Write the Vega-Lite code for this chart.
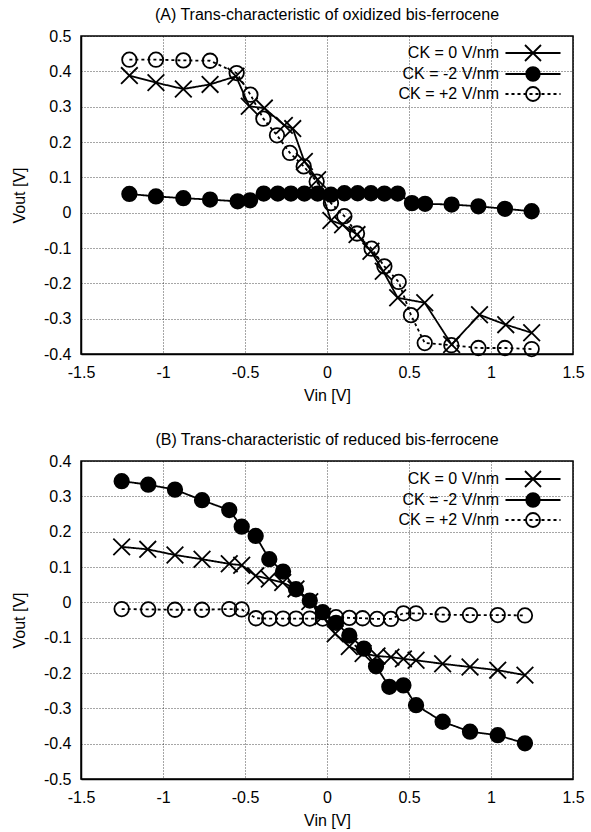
{
  "$schema": "https://vega.github.io/schema/vega-lite/v6.json",
  "background": "white",
  "padding": {"left": 10, "top": 5, "right": 5, "bottom": 0},
  "spacing": 26,
  "config": {
    "font": "Liberation Sans",
    "view": {"stroke": "black", "strokeWidth": 1.5},
    "axis": {
      "labelFont": "Liberation Sans", "labelFontSize": 16, "labelColor": "black",
      "titleFont": "Liberation Sans", "titleFontSize": 16, "titleFontWeight": "normal", "titleColor": "black",
      "grid": true, "gridColor": "#000000", "gridDash": [1, 2], "gridWidth": 1, "gridOpacity": 0.7,
      "domain": true, "domainColor": "black", "domainWidth": 1.5, "ticks": true, "tickSize": 0, "tickColor": "black",
      "labelPadding": 10, "labelFlush": false, "labelOverlap": false
    },
    "axisX": {"titlePadding": 7},
    "axisY": {"titlePadding": 16},
    "title": {"fontSize": 16, "fontWeight": "normal", "font": "Liberation Sans", "color": "black", "offset": 5.5, "anchor": "middle"},
    "legend": {"labelFontSize": 16, "labelFont": "Liberation Sans", "labelColor": "black"}
  },
  "datasets": {
    "A": [
      {"vin": -1.205, "vout": 0.388, "ck": "CK = 0 V/nm"},
      {"vin": -1.043, "vout": 0.368, "ck": "CK = 0 V/nm"},
      {"vin": -0.876, "vout": 0.350, "ck": "CK = 0 V/nm"},
      {"vin": -0.713, "vout": 0.363, "ck": "CK = 0 V/nm"},
      {"vin": -0.555, "vout": 0.386, "ck": "CK = 0 V/nm"},
      {"vin": -0.474, "vout": 0.301, "ck": "CK = 0 V/nm"},
      {"vin": -0.382, "vout": 0.296, "ck": "CK = 0 V/nm"},
      {"vin": -0.260, "vout": 0.247, "ck": "CK = 0 V/nm"},
      {"vin": -0.209, "vout": 0.238, "ck": "CK = 0 V/nm"},
      {"vin": -0.138, "vout": 0.145, "ck": "CK = 0 V/nm"},
      {"vin": -0.057, "vout": 0.093, "ck": "CK = 0 V/nm"},
      {"vin": 0.024, "vout": -0.022, "ck": "CK = 0 V/nm"},
      {"vin": 0.095, "vout": -0.034, "ck": "CK = 0 V/nm"},
      {"vin": 0.183, "vout": -0.062, "ck": "CK = 0 V/nm"},
      {"vin": 0.268, "vout": -0.109, "ck": "CK = 0 V/nm"},
      {"vin": 0.343, "vout": -0.166, "ck": "CK = 0 V/nm"},
      {"vin": 0.431, "vout": -0.241, "ck": "CK = 0 V/nm"},
      {"vin": 0.596, "vout": -0.255, "ck": "CK = 0 V/nm"},
      {"vin": 0.760, "vout": -0.373, "ck": "CK = 0 V/nm"},
      {"vin": 0.930, "vout": -0.289, "ck": "CK = 0 V/nm"},
      {"vin": 1.090, "vout": -0.317, "ck": "CK = 0 V/nm"},
      {"vin": 1.248, "vout": -0.340, "ck": "CK = 0 V/nm"},
      {"vin": -1.205, "vout": 0.053, "ck": "CK = -2 V/nm"},
      {"vin": -1.043, "vout": 0.046, "ck": "CK = -2 V/nm"},
      {"vin": -0.876, "vout": 0.041, "ck": "CK = -2 V/nm"},
      {"vin": -0.713, "vout": 0.037, "ck": "CK = -2 V/nm"},
      {"vin": -0.545, "vout": 0.032, "ck": "CK = -2 V/nm"},
      {"vin": -0.469, "vout": 0.035, "ck": "CK = -2 V/nm"},
      {"vin": -0.386, "vout": 0.054, "ck": "CK = -2 V/nm"},
      {"vin": -0.300, "vout": 0.054, "ck": "CK = -2 V/nm"},
      {"vin": -0.220, "vout": 0.054, "ck": "CK = -2 V/nm"},
      {"vin": -0.138, "vout": 0.054, "ck": "CK = -2 V/nm"},
      {"vin": -0.057, "vout": 0.054, "ck": "CK = -2 V/nm"},
      {"vin": 0.024, "vout": 0.051, "ck": "CK = -2 V/nm"},
      {"vin": 0.106, "vout": 0.055, "ck": "CK = -2 V/nm"},
      {"vin": 0.187, "vout": 0.055, "ck": "CK = -2 V/nm"},
      {"vin": 0.268, "vout": 0.055, "ck": "CK = -2 V/nm"},
      {"vin": 0.350, "vout": 0.054, "ck": "CK = -2 V/nm"},
      {"vin": 0.431, "vout": 0.054, "ck": "CK = -2 V/nm"},
      {"vin": 0.518, "vout": 0.027, "ck": "CK = -2 V/nm"},
      {"vin": 0.598, "vout": 0.025, "ck": "CK = -2 V/nm"},
      {"vin": 0.760, "vout": 0.023, "ck": "CK = -2 V/nm"},
      {"vin": 0.923, "vout": 0.018, "ck": "CK = -2 V/nm"},
      {"vin": 1.085, "vout": 0.011, "ck": "CK = -2 V/nm"},
      {"vin": 1.248, "vout": 0.004, "ck": "CK = -2 V/nm"},
      {"vin": -1.205, "vout": 0.433, "ck": "CK = +2 V/nm"},
      {"vin": -1.043, "vout": 0.433, "ck": "CK = +2 V/nm"},
      {"vin": -0.876, "vout": 0.431, "ck": "CK = +2 V/nm"},
      {"vin": -0.713, "vout": 0.430, "ck": "CK = +2 V/nm"},
      {"vin": -0.551, "vout": 0.395, "ck": "CK = +2 V/nm"},
      {"vin": -0.467, "vout": 0.334, "ck": "CK = +2 V/nm"},
      {"vin": -0.388, "vout": 0.266, "ck": "CK = +2 V/nm"},
      {"vin": -0.305, "vout": 0.219, "ck": "CK = +2 V/nm"},
      {"vin": -0.226, "vout": 0.169, "ck": "CK = +2 V/nm"},
      {"vin": -0.142, "vout": 0.131, "ck": "CK = +2 V/nm"},
      {"vin": -0.063, "vout": 0.088, "ck": "CK = +2 V/nm"},
      {"vin": 0.024, "vout": 0.027, "ck": "CK = +2 V/nm"},
      {"vin": 0.106, "vout": -0.010, "ck": "CK = +2 V/nm"},
      {"vin": 0.183, "vout": -0.059, "ck": "CK = +2 V/nm"},
      {"vin": 0.272, "vout": -0.102, "ck": "CK = +2 V/nm"},
      {"vin": 0.350, "vout": -0.152, "ck": "CK = +2 V/nm"},
      {"vin": 0.437, "vout": -0.196, "ck": "CK = +2 V/nm"},
      {"vin": 0.512, "vout": -0.290, "ck": "CK = +2 V/nm"},
      {"vin": 0.596, "vout": -0.369, "ck": "CK = +2 V/nm"},
      {"vin": 0.758, "vout": -0.375, "ck": "CK = +2 V/nm"},
      {"vin": 0.923, "vout": -0.383, "ck": "CK = +2 V/nm"},
      {"vin": 1.085, "vout": -0.383, "ck": "CK = +2 V/nm"},
      {"vin": 1.248, "vout": -0.386, "ck": "CK = +2 V/nm"}
    ],
    "B": [
      {"vin": -1.252, "vout": 0.157, "ck": "CK = 0 V/nm"},
      {"vin": -1.093, "vout": 0.150, "ck": "CK = 0 V/nm"},
      {"vin": -0.927, "vout": 0.134, "ck": "CK = 0 V/nm"},
      {"vin": -0.762, "vout": 0.122, "ck": "CK = 0 V/nm"},
      {"vin": -0.596, "vout": 0.109, "ck": "CK = 0 V/nm"},
      {"vin": -0.520, "vout": 0.105, "ck": "CK = 0 V/nm"},
      {"vin": -0.435, "vout": 0.075, "ck": "CK = 0 V/nm"},
      {"vin": -0.352, "vout": 0.066, "ck": "CK = 0 V/nm"},
      {"vin": -0.270, "vout": 0.056, "ck": "CK = 0 V/nm"},
      {"vin": -0.189, "vout": 0.038, "ck": "CK = 0 V/nm"},
      {"vin": -0.105, "vout": 0.002, "ck": "CK = 0 V/nm"},
      {"vin": -0.026, "vout": -0.040, "ck": "CK = 0 V/nm"},
      {"vin": 0.050, "vout": -0.089, "ck": "CK = 0 V/nm"},
      {"vin": 0.136, "vout": -0.125, "ck": "CK = 0 V/nm"},
      {"vin": 0.220, "vout": -0.145, "ck": "CK = 0 V/nm"},
      {"vin": 0.305, "vout": -0.152, "ck": "CK = 0 V/nm"},
      {"vin": 0.390, "vout": -0.155, "ck": "CK = 0 V/nm"},
      {"vin": 0.466, "vout": -0.160, "ck": "CK = 0 V/nm"},
      {"vin": 0.543, "vout": -0.164, "ck": "CK = 0 V/nm"},
      {"vin": 0.705, "vout": -0.174, "ck": "CK = 0 V/nm"},
      {"vin": 0.872, "vout": -0.183, "ck": "CK = 0 V/nm"},
      {"vin": 1.041, "vout": -0.192, "ck": "CK = 0 V/nm"},
      {"vin": 1.207, "vout": -0.206, "ck": "CK = 0 V/nm"},
      {"vin": -1.252, "vout": 0.343, "ck": "CK = -2 V/nm"},
      {"vin": -1.090, "vout": 0.333, "ck": "CK = -2 V/nm"},
      {"vin": -0.927, "vout": 0.319, "ck": "CK = -2 V/nm"},
      {"vin": -0.762, "vout": 0.289, "ck": "CK = -2 V/nm"},
      {"vin": -0.596, "vout": 0.261, "ck": "CK = -2 V/nm"},
      {"vin": -0.520, "vout": 0.214, "ck": "CK = -2 V/nm"},
      {"vin": -0.435, "vout": 0.188, "ck": "CK = -2 V/nm"},
      {"vin": -0.352, "vout": 0.122, "ck": "CK = -2 V/nm"},
      {"vin": -0.268, "vout": 0.087, "ck": "CK = -2 V/nm"},
      {"vin": -0.189, "vout": 0.037, "ck": "CK = -2 V/nm"},
      {"vin": -0.105, "vout": 0.005, "ck": "CK = -2 V/nm"},
      {"vin": -0.026, "vout": -0.028, "ck": "CK = -2 V/nm"},
      {"vin": 0.055, "vout": -0.058, "ck": "CK = -2 V/nm"},
      {"vin": 0.136, "vout": -0.094, "ck": "CK = -2 V/nm"},
      {"vin": 0.225, "vout": -0.131, "ck": "CK = -2 V/nm"},
      {"vin": 0.299, "vout": -0.181, "ck": "CK = -2 V/nm"},
      {"vin": 0.380, "vout": -0.239, "ck": "CK = -2 V/nm"},
      {"vin": 0.466, "vout": -0.235, "ck": "CK = -2 V/nm"},
      {"vin": 0.543, "vout": -0.291, "ck": "CK = -2 V/nm"},
      {"vin": 0.705, "vout": -0.338, "ck": "CK = -2 V/nm"},
      {"vin": 0.872, "vout": -0.366, "ck": "CK = -2 V/nm"},
      {"vin": 1.041, "vout": -0.376, "ck": "CK = -2 V/nm"},
      {"vin": 1.207, "vout": -0.399, "ck": "CK = -2 V/nm"},
      {"vin": -1.252, "vout": -0.019, "ck": "CK = +2 V/nm"},
      {"vin": -1.090, "vout": -0.020, "ck": "CK = +2 V/nm"},
      {"vin": -0.927, "vout": -0.021, "ck": "CK = +2 V/nm"},
      {"vin": -0.762, "vout": -0.021, "ck": "CK = +2 V/nm"},
      {"vin": -0.596, "vout": -0.019, "ck": "CK = +2 V/nm"},
      {"vin": -0.520, "vout": -0.020, "ck": "CK = +2 V/nm"},
      {"vin": -0.433, "vout": -0.045, "ck": "CK = +2 V/nm"},
      {"vin": -0.352, "vout": -0.046, "ck": "CK = +2 V/nm"},
      {"vin": -0.268, "vout": -0.046, "ck": "CK = +2 V/nm"},
      {"vin": -0.189, "vout": -0.046, "ck": "CK = +2 V/nm"},
      {"vin": -0.105, "vout": -0.046, "ck": "CK = +2 V/nm"},
      {"vin": -0.026, "vout": -0.046, "ck": "CK = +2 V/nm"},
      {"vin": 0.055, "vout": -0.042, "ck": "CK = +2 V/nm"},
      {"vin": 0.136, "vout": -0.044, "ck": "CK = +2 V/nm"},
      {"vin": 0.217, "vout": -0.045, "ck": "CK = +2 V/nm"},
      {"vin": 0.305, "vout": -0.047, "ck": "CK = +2 V/nm"},
      {"vin": 0.390, "vout": -0.047, "ck": "CK = +2 V/nm"},
      {"vin": 0.466, "vout": -0.031, "ck": "CK = +2 V/nm"},
      {"vin": 0.543, "vout": -0.031, "ck": "CK = +2 V/nm"},
      {"vin": 0.705, "vout": -0.035, "ck": "CK = +2 V/nm"},
      {"vin": 0.872, "vout": -0.036, "ck": "CK = +2 V/nm"},
      {"vin": 1.041, "vout": -0.036, "ck": "CK = +2 V/nm"},
      {"vin": 1.207, "vout": -0.037, "ck": "CK = +2 V/nm"}
    ]
  },
  "vconcat": [
    {
      "title": {"text": "(A) Trans-characteristic of oxidized bis-ferrocene"},
      "width": 492,
      "height": 318,
      "data": {"name": "A"},
      "resolve": {"scale": {"shape": "independent"}},
      "encoding": {
        "x": {"field": "vin", "type": "quantitative", "scale": {"domain": [-1.5, 1.5], "nice": false, "zero": false}, "axis": {"title": "Vin [V]", "grid": true, "values": [-1.5, -1, -0.5, 0, 0.5, 1, 1.5], "labelExpr": "'' + datum.value"}},
        "y": {"field": "vout", "type": "quantitative", "scale": {"domain": [-0.4, 0.5], "nice": false, "zero": false}, "axis": {"title": "Vout [V]", "grid": true, "values": [-0.4, -0.3, -0.2, -0.1, 0, 0.1, 0.2, 0.3, 0.4, 0.5], "labelExpr": "'' + datum.value"}}
      },
      "layer": [
        {
          "mark": {"type": "line", "color": "black", "strokeWidth": 1.8},
          "encoding": {
            "strokeDash": {"field": "ck", "type": "nominal", "scale": {"domain": ["CK = 0 V/nm", "CK = -2 V/nm", "CK = +2 V/nm"], "range": [[1, 0], [1, 0], [3, 3]]}, "legend": null}
          }
        },
        {
          "mark": {"type": "point", "filled": false, "color": "black", "strokeWidth": 1.8, "size": 210, "opacity": 1},
          "encoding": {
            "shape": {"field": "ck", "type": "nominal", "scale": {"domain": ["CK = 0 V/nm", "CK = -2 V/nm", "CK = +2 V/nm"], "range": ["M-1.15,-1.15L1.15,1.15M-1.15,1.15L1.15,-1.15", "circle", "circle"]}, "legend": null},
            "fill": {"field": "ck", "type": "nominal", "scale": {"domain": ["CK = 0 V/nm", "CK = -2 V/nm", "CK = +2 V/nm"], "range": ["transparent", "black", "transparent"]}, "legend": null}
          }
        },
        {
          "transform": [{"filter": "false"}],
          "mark": {"type": "point", "filled": false, "color": "black", "strokeWidth": 1.8, "opacity": 1},
          "encoding": {
            "shape": {"field": "ck", "type": "nominal",
              "scale": {"domain": ["CK = 0 V/nm", "CK = -2 V/nm", "CK = +2 V/nm"], "range": [
                "M-3.44,0L3.44,0M-1,-1L1,1M-1,1L1,-1",
                "M-3.44,0L3.44,0M0.85,0A0.85,0.85,0,1,1,-0.85,0A0.85,0.85,0,1,1,0.85,0M0.66,0A0.66,0.66,0,1,1,-0.66,0A0.66,0.66,0,1,1,0.66,0M0.47,0A0.47,0.47,0,1,1,-0.47,0A0.47,0.47,0,1,1,0.47,0M0.28,0A0.28,0.28,0,1,1,-0.28,0A0.28,0.28,0,1,1,0.28,0M0.1,0A0.1,0.1,0,1,1,-0.1,0A0.1,0.1,0,1,1,0.1,0",
                "M-3.44,0L-3.06,0M-2.69,0L-2.31,0M-1.94,0L-1.56,0M-1.19,0L-0.81,0M-0.44,0L-0.06,0M0.31,0L0.69,0M1.06,0L1.44,0M1.81,0L2.19,0M2.56,0L2.94,0M3.31,0L3.44,0M0.875,0A0.875,0.875,0,1,1,-0.875,0A0.875,0.875,0,1,1,0.875,0"]},
              "legend": {"title": null, "orient": "none", "legendX": 443, "legendY": 8, "padding": 0, "labelAlign": "right", "labelOffset": -43, "symbolSize": 256, "symbolStrokeWidth": 1.8, "symbolStrokeColor": "black", "rowPadding": -3, "labelLimit": 0}}
          }
        }
      ]
    },
    {
      "title": {"text": "(B) Trans-characteristic of reduced bis-ferrocene"},
      "width": 492,
      "height": 318,
      "data": {"name": "B"},
      "resolve": {"scale": {"shape": "independent"}},
      "encoding": {
        "x": {"field": "vin", "type": "quantitative", "scale": {"domain": [-1.5, 1.5], "nice": false, "zero": false}, "axis": {"title": "Vin [V]", "grid": true, "values": [-1.5, -1, -0.5, 0, 0.5, 1, 1.5], "labelExpr": "'' + datum.value"}},
        "y": {"field": "vout", "type": "quantitative", "scale": {"domain": [-0.5, 0.4], "nice": false, "zero": false}, "axis": {"title": "Vout [V]", "grid": true, "values": [-0.5, -0.4, -0.3, -0.2, -0.1, 0, 0.1, 0.2, 0.3, 0.4], "labelExpr": "'' + datum.value"}}
      },
      "layer": [
        {
          "mark": {"type": "line", "color": "black", "strokeWidth": 1.8},
          "encoding": {
            "strokeDash": {"field": "ck", "type": "nominal", "scale": {"domain": ["CK = 0 V/nm", "CK = -2 V/nm", "CK = +2 V/nm"], "range": [[1, 0], [1, 0], [3, 3]]}, "legend": null}
          }
        },
        {
          "mark": {"type": "point", "filled": false, "color": "black", "strokeWidth": 1.8, "size": 210, "opacity": 1},
          "encoding": {
            "shape": {"field": "ck", "type": "nominal", "scale": {"domain": ["CK = 0 V/nm", "CK = -2 V/nm", "CK = +2 V/nm"], "range": ["M-1.15,-1.15L1.15,1.15M-1.15,1.15L1.15,-1.15", "circle", "circle"]}, "legend": null},
            "fill": {"field": "ck", "type": "nominal", "scale": {"domain": ["CK = 0 V/nm", "CK = -2 V/nm", "CK = +2 V/nm"], "range": ["transparent", "black", "transparent"]}, "legend": null}
          }
        },
        {
          "transform": [{"filter": "false"}],
          "mark": {"type": "point", "filled": false, "color": "black", "strokeWidth": 1.8, "opacity": 1},
          "encoding": {
            "shape": {"field": "ck", "type": "nominal",
              "scale": {"domain": ["CK = 0 V/nm", "CK = -2 V/nm", "CK = +2 V/nm"], "range": [
                "M-3.44,0L3.44,0M-1,-1L1,1M-1,1L1,-1",
                "M-3.44,0L3.44,0M0.85,0A0.85,0.85,0,1,1,-0.85,0A0.85,0.85,0,1,1,0.85,0M0.66,0A0.66,0.66,0,1,1,-0.66,0A0.66,0.66,0,1,1,0.66,0M0.47,0A0.47,0.47,0,1,1,-0.47,0A0.47,0.47,0,1,1,0.47,0M0.28,0A0.28,0.28,0,1,1,-0.28,0A0.28,0.28,0,1,1,0.28,0M0.1,0A0.1,0.1,0,1,1,-0.1,0A0.1,0.1,0,1,1,0.1,0",
                "M-3.44,0L-3.06,0M-2.69,0L-2.31,0M-1.94,0L-1.56,0M-1.19,0L-0.81,0M-0.44,0L-0.06,0M0.31,0L0.69,0M1.06,0L1.44,0M1.81,0L2.19,0M2.56,0L2.94,0M3.31,0L3.44,0M0.875,0A0.875,0.875,0,1,1,-0.875,0A0.875,0.875,0,1,1,0.875,0"]},
              "legend": {"title": null, "orient": "none", "legendX": 443, "legendY": 9, "padding": 0, "labelAlign": "right", "labelOffset": -43, "symbolSize": 256, "symbolStrokeWidth": 1.8, "symbolStrokeColor": "black", "rowPadding": -3, "labelLimit": 0}}
          }
        }
      ]
    }
  ]
}
